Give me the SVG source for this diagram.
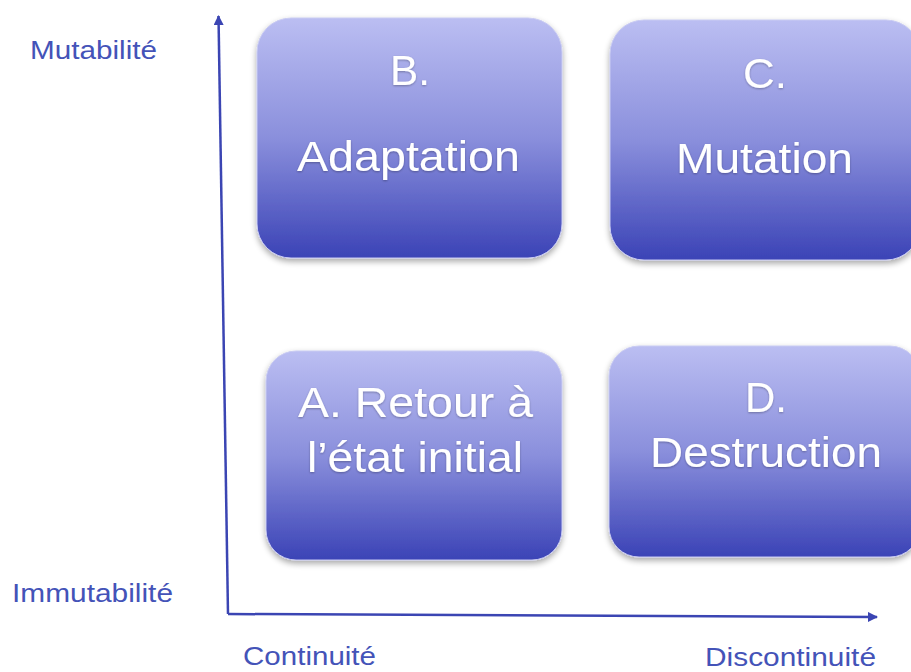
<svg xmlns="http://www.w3.org/2000/svg" width="911" height="672" viewBox="0 0 911 672">
<defs>
<linearGradient id="g" x1="0" y1="0" x2="0" y2="1">
<stop offset="0" stop-color="#bbbef2"/>
<stop offset="0.5" stop-color="#8a8fdc"/>
<stop offset="1" stop-color="#3b43b6"/>
</linearGradient>
<filter id="sh" x="-10%" y="-10%" width="120%" height="125%">
<feGaussianBlur in="SourceAlpha" stdDeviation="3"/>
<feOffset dx="0" dy="3" result="b"/>
<feComponentTransfer><feFuncA type="linear" slope="0.35"/></feComponentTransfer>
<feMerge><feMergeNode/><feMergeNode in="SourceGraphic"/></feMerge>
</filter>
<filter id="ts" x="-5%" y="-20%" width="110%" height="140%">
<feGaussianBlur in="SourceAlpha" stdDeviation="1.2"/>
<feOffset dx="0" dy="1"/>
<feComponentTransfer><feFuncA type="linear" slope="0.3"/></feComponentTransfer>
<feMerge><feMergeNode/><feMergeNode in="SourceGraphic"/></feMerge>
</filter>
<marker id="ah" viewBox="0 0 10 10" refX="9" refY="5" markerWidth="4" markerHeight="4" orient="auto">
<path d="M0,0 L10,5 L0,10 z" fill="#3b45b3"/>
</marker>
</defs>
<style>
.box{fill:url(#g);stroke:#c9cbf2;stroke-width:1;filter:url(#sh)}
.bt{font-family:"Liberation Sans",Arial,sans-serif;font-size:43px;fill:#ffffff;text-anchor:middle;filter:url(#ts)}
.ax{font-family:"Liberation Sans",Arial,sans-serif;font-size:26px;fill:#4453b8}
.axis{stroke:#3b45b3;stroke-width:2.5;fill:none;marker-end:url(#ah)}
</style>
<g id="connectors">
<path class="axis" d="M228,614 L218.5,16"/>
<path class="axis" d="M228,614 L877,617"/>
</g>
<g id="nodeB">
<rect class="box" x="257" y="18" width="305" height="240" rx="34"/>
<text class="bt" x="410" y="85" textLength="40" lengthAdjust="spacingAndGlyphs">B.</text>
<text class="bt" x="408.5" y="171" textLength="223" lengthAdjust="spacingAndGlyphs">Adaptation</text>
</g>
<g id="nodeC">
<rect class="box" x="610" y="20" width="310" height="240" rx="34"/>
<text class="bt" x="765" y="88" textLength="44" lengthAdjust="spacingAndGlyphs">C.</text>
<text class="bt" x="764.5" y="173" textLength="177" lengthAdjust="spacingAndGlyphs">Mutation</text>
</g>
<g id="nodeA">
<rect class="box" x="266" y="351" width="296" height="209" rx="30"/>
<text class="bt" x="415.5" y="417" textLength="235" lengthAdjust="spacingAndGlyphs">A. Retour à</text>
<text class="bt" x="415" y="472" textLength="216" lengthAdjust="spacingAndGlyphs">l’état initial</text>
</g>
<g id="nodeD">
<rect class="box" x="609" y="346" width="311" height="211" rx="30"/>
<text class="bt" x="766" y="412" textLength="42" lengthAdjust="spacingAndGlyphs">D.</text>
<text class="bt" x="766" y="467" textLength="232" lengthAdjust="spacingAndGlyphs">Destruction</text>
</g>
<g id="labels">
<text class="ax" x="30" y="59" textLength="127" lengthAdjust="spacingAndGlyphs">Mutabilité</text>
<text class="ax" x="12" y="602" textLength="161" lengthAdjust="spacingAndGlyphs">Immutabilité</text>
<text class="ax" x="243" y="665" textLength="133" lengthAdjust="spacingAndGlyphs">Continuité</text>
<text class="ax" x="705" y="666" textLength="171" lengthAdjust="spacingAndGlyphs">Discontinuité</text>
</g>
</svg>
